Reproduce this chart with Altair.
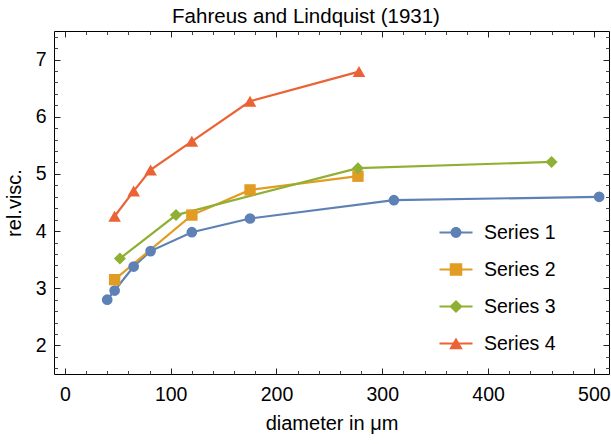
import altair as alt
import pandas as pd

# ---- data ----
series_names = ["Series 1", "Series 2", "Series 3", "Series 4"]
s1_x = [40, 47, 65, 81, 120, 175, 311, 505]
s1_y = [2.80, 2.96, 3.38, 3.65, 3.98, 4.22, 4.54, 4.60]
s2_x = [47, 120, 175, 277]
s2_y = [3.15, 4.28, 4.72, 4.96]
s3_x = [52, 105, 277, 460]
s3_y = [3.52, 4.28, 5.10, 5.21]
s4_x = [47, 65, 81, 120, 175, 278]
s4_y = [4.26, 4.70, 5.07, 5.57, 6.27, 6.79]

colors = ["#5E81B5", "#E19C24", "#8FB032", "#EB6235"]
x_major = [0, 100, 200, 300, 400, 500]
x_minor = [v for v in range(20, 500, 20) if v % 100 != 0]
y_major = [2, 3, 4, 5, 6, 7]
y_minor = [round(1.6 + 0.2 * i, 1) for i in range(30) if round(1.6 + 0.2 * i, 1) % 1 != 0]

rows = []
for name, xs, ys in zip(series_names, [s1_x, s2_x, s3_x, s4_x], [s1_y, s2_y, s3_y, s4_y]):
    for a, b in zip(xs, ys):
        rows.append({"series": name, "leg": name, "x": a, "y": b})
df = pd.DataFrame(rows)

W, H = 555, 343
FONT = "Liberation Sans"
xdom = [-10.3, 514.3]
ydom = [1.5, 7.5]

cscale = alt.Scale(domain=series_names, range=colors)


def xenc(axis):
    return alt.X("x:Q", scale=alt.Scale(domain=xdom, nice=False, zero=False), axis=axis)


def yenc(axis):
    return alt.Y("y:Q", scale=alt.Scale(domain=ydom, nice=False, zero=False), axis=axis)


def tick_axis(orient, offset, values, size, color):
    return alt.Axis(orient=orient, offset=offset, values=values, tickSize=size,
                    tickColor=color, tickWidth=1, labels=False, domain=False,
                    grid=False, title=None)


base = alt.Chart(df)

lines = base.mark_line(strokeWidth=2.2).encode(
    x=xenc(alt.Axis(orient="bottom", values=x_major, format="d", ticks=False, tickSize=0,
                    domain=False, grid=False, labelFont=FONT, labelFontSize=19.5,
                    labelColor="black", labelPadding=11, title="diameter in μm",
                    titleFont=FONT, titleFontSize=20, titleFontWeight="normal",
                    titleColor="black", titleY=55, titleBaseline="alphabetic")),
    y=yenc(alt.Axis(orient="left", values=y_major, format="d", ticks=False, tickSize=0,
                    domain=False, grid=False, labelFont=FONT, labelFontSize=19.5,
                    labelColor="black", labelPadding=8, title="rel.visc.",
                    titleFont=FONT, titleFontSize=20, titleFontWeight="normal",
                    titleColor="black", titleX=-34, titleBaseline="alphabetic")),
    color=alt.Color("series:N", scale=cscale, legend=None),
    detail="series:N",
)

points = base.mark_point(filled=True, opacity=1).encode(
    x=xenc(tick_axis("top", -H, x_major, 6, "#222")),
    y=yenc(tick_axis("right", -W, y_major, 6, "#222")),
    color=alt.Color("series:N", scale=cscale, legend=None),
    shape=alt.Shape("series:N", scale=alt.Scale(domain=series_names,
                    range=["circle", "square", "diamond", "triangle-up"]), legend=None),
    size=alt.Size("series:N", scale=alt.Scale(domain=series_names,
                  range=[115, 160, 185, 185]), legend=None),
)

leg_paths = [
    "M-1,-0.065H1V0.065H-1Z M0,-0.33A0.33,0.33 0 1,1 0,0.33A0.33,0.33 0 1,1 0,-0.33Z",
    "M-1,-0.065H1V0.065H-1Z M-0.38,-0.38H0.38V0.38H-0.38Z",
    "M-1,-0.065H1V0.065H-1Z M0,-0.4L0.4,0L0,0.4L-0.4,0Z",
    "M-1,-0.065H1V0.065H-1Z M0,-0.36L0.41,0.35H-0.41Z",
]


def mk_legend():
    return alt.Legend(title=None, orient="none", legendX=385.5, legendY=185,
                      symbolSize=1089, symbolStrokeWidth=0, symbolOpacity=1,
                      labelFont=FONT, labelFontSize=19.5, labelColor="black",
                      labelOffset=11.5, rowPadding=11, padding=0)


legend_layer = base.transform_filter("false").mark_point(filled=True, opacity=1).encode(
    x=xenc(tick_axis("top", -H, x_minor, 3.5, "#444")),
    y=yenc(tick_axis("right", -W, y_minor, 3.5, "#444")),
    color=alt.Color("leg:N", scale=alt.Scale(domain=series_names, range=colors),
                    legend=mk_legend()),
    shape=alt.Shape("leg:N", scale=alt.Scale(domain=series_names, range=leg_paths),
                    legend=mk_legend()),
)

ax_top_major = base.transform_filter("false").mark_point().encode(
    x=xenc(tick_axis("bottom", -H, x_major, 6, "#222")),
    y=yenc(tick_axis("left", -W, y_major, 6, "#222")),
)

ax_top_minor = base.transform_filter("false").mark_point().encode(
    x=xenc(tick_axis("bottom", -H, x_minor, 3.5, "#444")),
    y=yenc(tick_axis("left", -W, y_minor, 3.5, "#444")),
)

chart = alt.layer(lines, points, legend_layer, ax_top_major, ax_top_minor).resolve_scale(
    color="independent", shape="independent", size="independent"
).resolve_axis(
    x="independent", y="independent"
).properties(
    width=W, height=H,
    title=alt.TitleParams(text="Fahreus and Lindquist (1931)", font=FONT, fontSize=20.5,
                          fontWeight="normal", color="black", anchor="middle",
                          baseline="alphabetic", offset=-12.5, dx=-25.5),
    padding={"left": 54, "top": 31, "right": 2, "bottom": 70},
    autosize=alt.AutoSizeParams(type="none"),
    background="white",
).configure_view(stroke="#000", strokeWidth=1)

chart.save("out.html", embed_options={"renderer": "svg", "actions": False})
